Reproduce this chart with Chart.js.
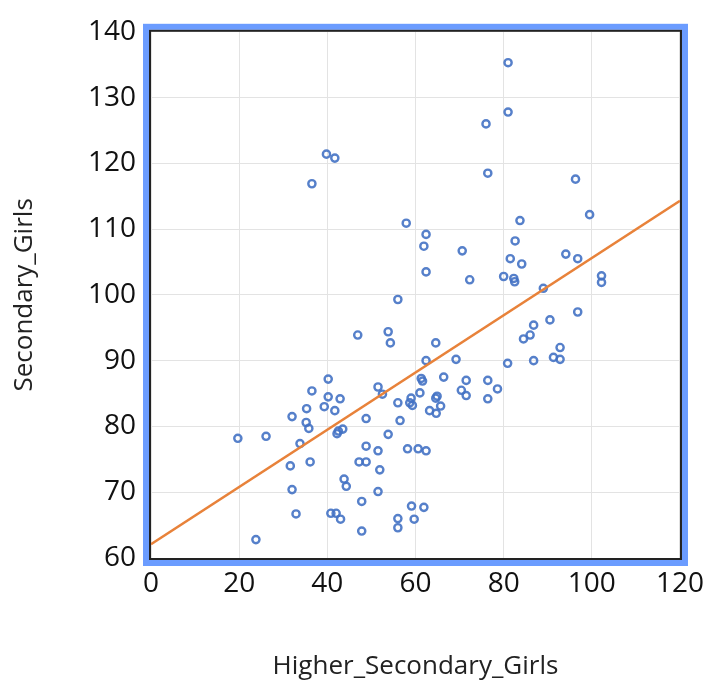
<!DOCTYPE html>
<html lang="en">
<head>
    <meta charset="UTF-8">
    <title>Secondary vs Higher Secondary Girls</title>
    <script src="https://cdn.jsdelivr.net/npm/chart.js"></script>
    <style>
        body { margin: 0; background: #fff; }
        #wrap { width: 713px; height: 684px; }
    </style>
</head>
<body>
    <div id="wrap"><canvas id="scatter" width="713" height="684"></canvas></div>

    <script>
        // values
        const higherSecondary = [
            39.8, 41.7, 36.5, 57.9, 62.4, 61.9, 62.4, 56.0, 81.0, 81.0,
            76.0, 76.4, 96.3, 99.5, 83.7, 82.6, 70.6, 81.5, 84.1, 94.1,
            96.8, 72.3, 80.0, 82.3, 82.5, 89.0, 102.2, 102.2, 46.9, 53.8,
            54.3, 40.2, 36.5, 40.2, 42.9, 35.3, 39.3, 41.7, 32.0, 35.2,
            35.8, 42.5, 43.5, 42.2, 19.7, 26.1, 33.8, 31.6, 36.1, 32.0,
            32.9, 23.8, 51.5, 52.5, 48.8, 56.0, 56.5, 59.0, 58.7, 59.3,
            61.3, 53.8, 48.8, 51.5, 47.2, 48.8, 51.9, 58.2, 60.6, 62.4,
            43.8, 44.3, 51.5, 47.8, 40.8, 42.0, 43.0, 47.8, 59.1, 61.9,
            56.0, 56.0, 59.7, 64.6, 62.4, 69.2, 61.6, 66.4, 71.5, 76.4,
            78.6, 70.4, 71.5, 76.4, 61.0, 64.9, 64.6, 65.7, 63.2, 64.7,
            80.9, 86.8, 91.3, 92.8, 92.8, 84.5, 86.0, 86.8, 90.5, 96.8
        ];
        const secondary = [
            121.4, 120.8, 116.9, 110.9, 109.2, 107.4, 103.5, 99.3, 135.3, 127.8,
            126.0, 118.5, 117.6, 112.2, 111.3, 108.2, 106.7, 105.5, 104.7, 106.2,
            105.5, 102.3, 102.8, 102.5, 102.0, 101.0, 102.9, 101.9, 93.9, 94.4,
            92.7, 87.2, 85.4, 84.5, 84.2, 82.7, 83.0, 82.4, 81.5, 80.6,
            79.7, 79.3, 79.6, 78.9, 78.2, 78.5, 77.4, 74.0, 74.6, 70.4,
            66.7, 62.8, 86.0, 84.9, 81.2, 83.6, 80.9, 84.3, 83.6, 83.2,
            87.3, 78.8, 77.0, 76.3, 74.6, 74.6, 73.4, 76.6, 76.6, 76.3,
            72.0, 70.9, 70.1, 68.6, 66.8, 66.8, 65.9, 64.1, 67.9, 67.7,
            66.0, 64.6, 65.9, 92.7, 90.0, 90.2, 86.9, 87.5, 87.0, 87.0,
            85.7, 85.5, 84.7, 84.2, 85.1, 84.6, 84.3, 83.1, 82.4, 82.0,
            89.6, 90.0, 90.5, 90.2, 92.0, 93.3, 93.9, 95.4, 96.2, 97.4
        ];
        // trend line end points
        const trendX = [0, 120];
        const trendY = [62.1, 114.3];

        const xTicks = [0, 20, 40, 60, 80, 100, 120];
        const yTicks = [60, 70, 80, 90, 100, 110, 120, 130, 140];

        const points = higherSecondary.map((x, i) => ({ x: x, y: secondary[i] }));
        const trend = trendX.map((x, i) => ({ x: x, y: trendY[i] }));

        const FONT = '"Open Sans", sans-serif';

        // blue frame round the plot area, like the original
        const framePlugin = {
            id: 'frame',
            afterDraw(chart) {
                const a = chart.chartArea;
                const ctx = chart.ctx;
                ctx.save();
                ctx.strokeStyle = '#6b9cff';
                ctx.lineWidth = 6;
                ctx.strokeRect(a.left - 5, a.top - 5, a.right - a.left + 10, a.bottom - a.top + 10);
                ctx.strokeStyle = '#222';
                ctx.lineWidth = 2;
                ctx.strokeRect(a.left - 1, a.top - 1, a.right - a.left + 2, a.bottom - a.top + 2);
                ctx.restore();
            }
        };

        new Chart(document.getElementById('scatter'), {
            type: 'scatter',
            data: {
                datasets: [{
                    label: 'Trend',
                    data: trend,
                    showLine: true,
                    borderColor: '#e8823a',
                    borderWidth: 2.5,
                    pointRadius: 0,
                    order: 0
                }, {
                    label: 'Secondary_Girls',
                    data: points,
                    borderColor: 'rgba(68, 114, 196, 0.9)',
                    backgroundColor: 'rgba(255, 255, 255, 0)',
                    borderWidth: 2.4,
                    pointRadius: 3.6,
                    order: 1
                }]
            },
            options: {
                responsive: false,
                animation: false,
                layout: { padding: { top: 28, right: 31, left: 0, bottom: 0 } },
                plugins: {
                    legend: { display: false },
                    tooltip: { enabled: false }
                },
                scales: {
                    x: {
                        type: 'linear',
                        min: 0,
                        max: 120,
                        afterBuildTicks: s => { s.ticks = xTicks.map(v => ({ value: v })); },
                        afterFit: s => { s.height = 126; },
                        grid: { color: '#e3e3e3', drawTicks: false },
                        border: { display: false },
                        ticks: { color: '#111', font: { family: FONT, size: 28 }, padding: 9, maxRotation: 0 },
                        title: {
                            display: true,
                            text: 'Higher_Secondary_Girls',
                            color: '#222',
                            font: { family: FONT, size: 26 },
                            padding: { top: 0, bottom: 2 }
                        }
                    },
                    y: {
                        type: 'linear',
                        min: 60,
                        max: 140,
                        afterBuildTicks: s => { s.ticks = yTicks.map(v => ({ value: v })); },
                        afterFit: s => { s.width = 151; },
                        grid: { color: '#e3e3e3', drawTicks: false },
                        border: { display: false },
                        ticks: { color: '#111', font: { family: FONT, size: 28 }, padding: 15 },
                        title: {
                            display: true,
                            text: 'Secondary_Girls',
                            color: '#222',
                            font: { family: FONT, size: 26 },
                            padding: { top: 9, bottom: 0 }
                        }
                    }
                }
            },
            plugins: [framePlugin]
        });
    </script>
</body>
</html>
